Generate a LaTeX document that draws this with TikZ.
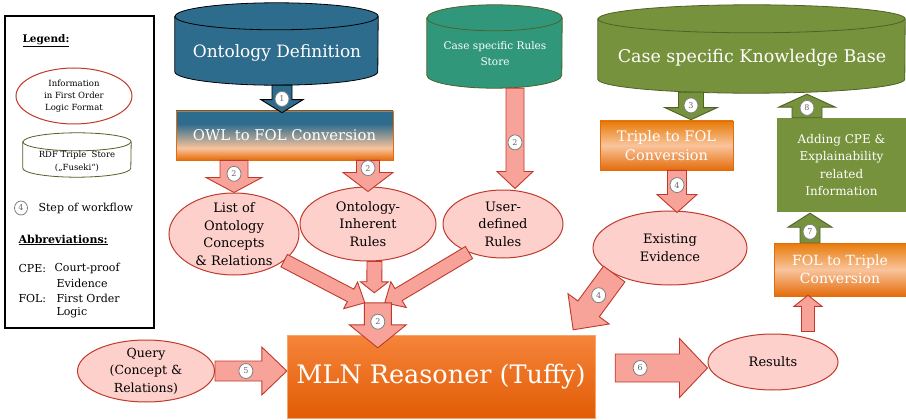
\documentclass[tikz,border=0pt]{standalone}
\usepackage{fontspec}
\setmainfont{DejaVu Serif}
\usepackage{tikz}
\usetikzlibrary{calc,shapes.geometric}
\usepackage{xcolor}
\definecolor{ontoblue}{HTML}{2E6C8D}
\definecolor{rulegreen}{HTML}{31977A}
\definecolor{kbolive}{HTML}{76923C}
\definecolor{kbdark}{HTML}{4F6228}
\definecolor{peach}{HTML}{F9C49C}
\definecolor{fireorange}{HTML}{E46C0A}
\definecolor{mlntop}{HTML}{F5843A}
\definecolor{mlnbot}{HTML}{E25C05}
\definecolor{mlnedge}{HTML}{F7A66A}
\definecolor{pinkfill}{HTML}{FDD0CB}
\definecolor{arrowpink}{HTML}{F8A39A}
\definecolor{darkred}{HTML}{C0392B}
\pgfdeclareverticalshading{owlfade}{100bp}{color(0bp)=(fireorange); color(25bp)=(fireorange); color(37bp)=(peach); color(62bp)=(ontoblue); color(75bp)=(ontoblue); color(100bp)=(ontoblue)}
\pgfdeclareverticalshading{convfade}{100bp}{color(0bp)=(fireorange); color(25bp)=(fireorange); color(50bp)=(peach); color(75bp)=(fireorange!90!yellow); color(100bp)=(fireorange!90!yellow)}
\newcommand{\fs}[2]{\fontsize{#1}{#2}\selectfont}
\newcommand{\drawcyl}[6]{\node[minimum width=#3pt,minimum height=#4pt,inner sep=0pt] (#1) at (#2) {};
  \path[#6] ($(#1.north west)+(0pt,-#5pt)$) -- ($(#1.south west)+(0pt,#5pt)$) arc[start angle=180,end angle=360,x radius=#3pt/2,y radius=#5pt] -- ($(#1.north east)+(0pt,-#5pt)$) arc[start angle=0,end angle=180,x radius=#3pt/2,y radius=#5pt] -- cycle;
  \draw[#6,fill=none] ($(#1.north west)+(0pt,-#5pt)$) arc[start angle=180,end angle=360,x radius=#3pt/2,y radius=#5pt];}
\newcommand{\blockarrow}[6]{\coordinate (ba-base) at ($(#3)!#6pt!(#2)$);
  \draw[#1] ($(#2)!#4pt!90:(#3)$) -- ($(ba-base)!#4pt!-90:(#2)$) -- ($(ba-base)!#5pt!-90:(#2)$) -- (#3) -- ($(ba-base)!#5pt!90:(#2)$) -- ($(ba-base)!#4pt!90:(#2)$) -- ($(#2)!#4pt!-90:(#3)$) -- cycle;}
\newcommand{\wfstep}[3]{\node[stepcircle] (#1) at (#2) {#3};}
\tikzset{
  fol/.style={ellipse,draw=darkred,fill=pinkfill,line width=1pt,inner xsep=0pt,inner ysep=-40pt,align=center,font=\fs{13}{17.5}},
  pinkarrow/.style={fill=arrowpink,draw=darkred,line width=0.9pt},
  olivearrow/.style={fill=kbolive,draw=kbdark,line width=0.9pt},
  bluearrow/.style={fill=ontoblue,draw=black,line width=0.9pt},
  stepcircle/.style={ellipse,draw=gray,fill=white,line width=0.8pt,inner sep=0pt,minimum width=14pt,minimum height=15pt,text=gray!80!black,font=\fs{8}{8}},
  fadebox/.style={rectangle,draw=fireorange,line width=0.6pt,inner sep=0pt,align=center,text=white},
  cyltext/.style={text=white,align=center},
  legtext/.style={anchor=west,font=\fs{11}{11}}
}
\begin{document}
\begin{tikzpicture}[x=1pt,y=-1pt]
\useasboundingbox (0,0) rectangle (906,420);

% legend
\draw[line width=1.2pt] (5,16) rectangle (154,328);
\node[anchor=west,font=\fs{10.5}{11}\bfseries] (leg-title) at (19,41) {\underline{Legend:}};
\node[fol,fill=white,minimum width=116pt,minimum height=56pt,font=\fs{8.5}{12}] (leg-fol) at (74,96) {Information\\in First Order\\Logic Format};
\drawcyl{leg-rdf}{77,155}{108}{44}{9}{fill=white,draw=kbdark,line width=0.8pt}
\node[align=center,font=\fs{8.5}{13}] (leg-rdf-t) at (77,161) {RDF Triple\ \ Store\\(„Fuseki“)};
\node[stepcircle,minimum width=13pt,minimum height=14pt] (leg-step) at (21,208) {4};
\node[legtext] (leg-step-t) at (35,208) {Step of workflow};
\node[legtext,font=\fs{11}{11}\bfseries] (leg-abbr) at (15,240) {\underline{Abbreviations:}};
\node[legtext] (leg-cpe) at (15,268) {CPE:};
\node[legtext] (leg-cpe-t) at (51,268) {Court-proof};
\node[legtext] (leg-cpe-t2) at (53,283) {Evidence};
\node[legtext] (leg-fol-a) at (15,298) {FOL:};
\node[legtext] (leg-fol-t) at (53,298) {First Order};
\node[legtext] (leg-fol-t2) at (53,313) {Logic};

% stores
\drawcyl{onto}{276.5,44}{203}{82}{13.5}{fill=ontoblue,draw=black,line width=0.8pt}
\node[cyltext,font=\fs{17}{20}] (onto-t) at (277,53) {Ontology Definition};
\drawcyl{rules}{494.5,46.5}{135}{83}{13}{fill=rulegreen,draw=kbdark,line width=0.8pt}
\node[cyltext,font=\fs{10.5}{16}] (rules-t) at (495,54) {Case specific Rules\\Store};
\drawcyl{kb}{751.5,49}{307}{88}{14}{fill=kbolive,draw=kbdark,line width=0.8pt}
\node[cyltext,font=\fs{17.5}{20}] (kb-t) at (752,58) {Case specific Knowledge Base};

% conversion boxes
\node[fadebox,minimum width=217pt,minimum height=49pt,shading=owlfade,font=\fs{14.8}{15}] (owl) at (284.5,135.5) {OWL to FOL Conversion};
\node[fadebox,minimum width=133pt,minimum height=49pt,shading=convfade,font=\fs{14.5}{19}] (t2f) at (666.5,145.5) {Triple to FOL\\Conversion};
\node[rectangle,fill=kbolive,minimum width=129pt,minimum height=94pt,text=white,align=center,font=\fs{12}{17.5}] (addcpe) at (841.5,165) {Adding CPE \&\\Explainability\\related\\Information};
\node[fadebox,minimum width=132pt,minimum height=53pt,shading=convfade,font=\fs{14}{18.5}] (f2t) at (840,269.5) {FOL to Triple\\Conversion};
\node[rectangle,minimum width=308pt,minimum height=83pt,top color=mlntop,bottom color=mlnbot,draw=mlnedge,text=white,font=\fs{25.5}{26}] (mln) at (441,376.5) {MLN Reasoner (Tuffy)};

% first order logic
\node[fol,minimum width=130pt,minimum height=82pt] (list) at (234,234) {List of\\Ontology\\Concepts\\\& Relations};
\node[fol,minimum width=136pt,minimum height=74pt] (inh) at (368,224) {Ontology-\\Inherent\\Rules};
\node[fol,minimum width=120pt,minimum height=68pt] (user) at (503,224) {User-\\defined\\Rules};
\node[fol,minimum width=154pt,minimum height=74pt] (evid) at (670,248) {Existing\\Evidence};
\node[fol,minimum width=130pt,minimum height=56pt] (results) at (773,362) {Results};
\node[fol,minimum width=137pt,minimum height=62pt,font=\fs{12.5}{17.5}] (query) at (146,371) {Query\\(Concept \&\\Relations)};

% arrows
\coordinate (a1s) at ($(onto.south)+(5.5,0)$);
\coordinate (a1e) at ($(a1s |- owl.north)+(0,2)$);
\blockarrow{bluearrow}{a1s}{a1e}{10}{21}{13}
\coordinate (a2as) at (list.north |- owl.south);
\blockarrow{pinkarrow}{a2as}{list.north}{14}{28}{15}
\coordinate (a2bs) at (inh.north |- owl.south);
\coordinate (a2be) at ($(inh.north)+(0,5)$);
\blockarrow{pinkarrow}{a2bs}{a2be}{11.5}{25}{19}
\coordinate (a2cs) at ($(rules.south)+(20.5,0)$);
\coordinate (a2ce) at ($(a2cs |- user.north)+(0,-1)$);
\blockarrow{pinkarrow}{a2cs}{a2ce}{9}{18}{17}
\coordinate (merge) at ($(mln.north west)+(91,-32)$);
\coordinate (m-list) at ($(merge)+(-13,0)$);
\coordinate (m-inh) at ($(merge)+(-3.5,-10)$);
\coordinate (m-inhs) at ($(inh.south)+(6.5,0)$);
\coordinate (m-user) at ($(merge)+(7,0)$);
\blockarrow{pinkarrow}{list.-28}{m-list}{7}{15}{16}
\blockarrow{pinkarrow}{m-inhs}{m-inh}{7.5}{14}{11}
\blockarrow{pinkarrow}{user.220}{m-user}{7}{15}{16}
\coordinate (a2e) at ($(merge |- mln.north)+(0,13)$);
\blockarrow{pinkarrow}{merge}{a2e}{13.5}{28.5}{23}
\coordinate (a3s) at ($(kb.south)+(-60.5,-1)$);
\coordinate (a3e) at ($(a3s |- t2f.north)+(0,-1)$);
\blockarrow{olivearrow}{a3s}{a3e}{12.5}{26}{12}
\coordinate (a4s) at ($(t2f.south)+(10.5,0)$);
\coordinate (a4e) at ($(a4s |- evid.north)+(0,2)$);
\blockarrow{pinkarrow}{a4s}{a4e}{9.5}{20}{18}
\coordinate (a4de) at ($(mln.north east)+(-22,-5)$);
\blockarrow{pinkarrow}{evid.205}{a4de}{13.3}{25.6}{26}
\coordinate (a5e) at (query.east -| mln.west);
\blockarrow{pinkarrow}{query.east}{a5e}{10}{24}{25}
\coordinate (a6s) at ($(mln.east)+(20,-8.5)$);
\coordinate (a6e) at (a6s -| results.west);
\blockarrow{pinkarrow}{a6s}{a6e}{14}{29.5}{28}
\coordinate (ars) at ($(results.north)+(35,-2)$);
\coordinate (are) at ($(ars |- f2t.south)+(0,-1)$);
\blockarrow{pinkarrow}{ars}{are}{6.5}{14}{11}
\coordinate (a7s) at ($(f2t.north)+(-30,0)$);
\coordinate (a7e) at ($(a7s |- addcpe.south)+(0,1)$);
\blockarrow{olivearrow}{a7s}{a7e}{10}{22}{14}
\coordinate (a8s) at ($(addcpe.north)+(-34.5,0)$);
\coordinate (a8e) at ($(a8s |- kb.south)+(0,1)$);
\blockarrow{olivearrow}{a8s}{a8e}{15}{28.5}{13}

% steps
\wfstep{s1}{$(a1s)!0.5!(a1e)$}{1}
\wfstep{s2a}{$(a2as)!0.42!(list.north)$}{2}
\wfstep{s2b}{$(a2bs)!0.25!(a2be)$}{2}
\wfstep{s2c}{$(a2cs)!0.54!(a2ce)$}{2}
\wfstep{s2d}{$(merge)!0.42!(a2e)$}{2}
\wfstep{s3}{$(a3s)!0.48!(a3e)$}{3}
\wfstep{s4a}{$(a4s)!0.35!(a4e)$}{4}
\wfstep{s4b}{$(evid.205)!0.38!(a4de)$}{4}
\wfstep{s5}{$(query.east)!0.43!(a5e)$}{5}
\wfstep{s6}{$(a6s)!0.27!(a6e)$}{6}
\wfstep{s7}{$(a7s)!0.37!(a7e)$}{7}
\wfstep{s8}{$(a8s)!0.42!(a8e)$}{8}

\end{tikzpicture}
\end{document}
